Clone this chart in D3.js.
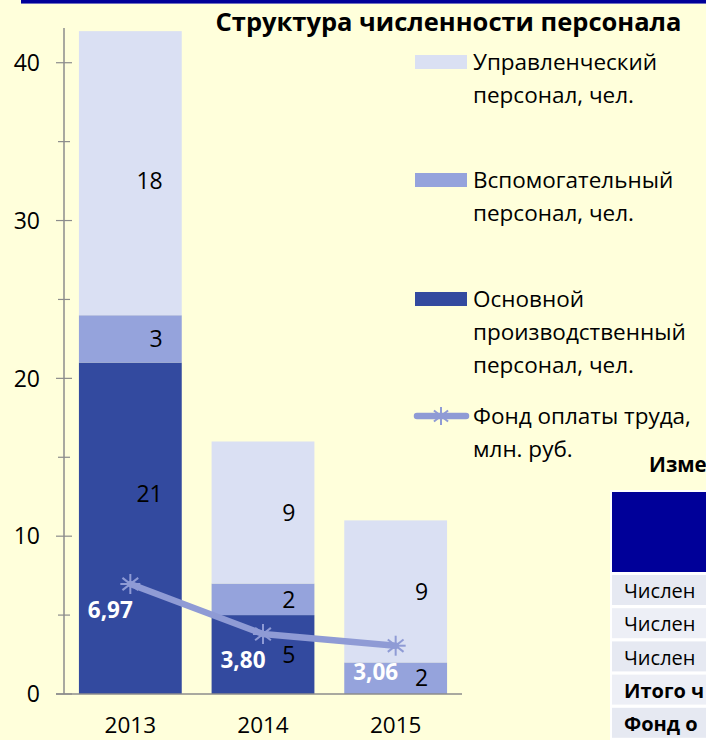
<!DOCTYPE html>
<html><head><meta charset="utf-8">
<script src="https://cdn.jsdelivr.net/npm/d3@7"></script>
<style>
html,body{margin:0;padding:0;background:#FFFFDB;overflow:hidden}
svg{display:block}
text{font-family:"Open Sans","Noto Sans",sans-serif}
</style></head>
<body>
<svg id="c" width="706" height="740"></svg>
<script>
const years = ["2013","2014","2015"];
const mainStaff = [21, 5, 0];
const auxStaff = [3, 2, 2];
const mgmtStaff = [18, 9, 9];
const wageFund = [6.97, 3.80, 3.06];
const yTicks = [0, 10, 20, 30, 40];
const legendLines = [
  ["Управленческий","персонал, чел."],
  ["Вспомогательный","персонал, чел."],
  ["Основной","производственный","персонал, чел."],
  ["Фонд оплаты труда,","млн. руб."]
];
const tableTitle = "Изме";
const tableRows = ["Числен", "Числен", "Числен", "Итого ч", "Фонд о"];

const colors = {main:"#334A9F", aux:"#95A3DC", mgmt:"#DAE0F3", line:"#8F9BD5"};
const svg = d3.select("#c");

// top band
svg.append("rect").attr("x",21).attr("y",0).attr("width",685).attr("height",3).attr("fill","#000099");
svg.append("rect").attr("x",21).attr("y",3).attr("width",685).attr("height",1).attr("fill","#6F6FC0");

const y = d3.scaleLinear().domain([0, 42.2]).range([694, 28]);
const x = d3.scaleBand().domain(years).range([64, 462]).paddingInner(0.225).paddingOuter(0.1125);

const rows = years.map((yr,i)=>({year:yr, main:mainStaff[i], aux:auxStaff[i], mgmt:mgmtStaff[i]}));
const stack = d3.stack().keys(["main","aux","mgmt"])(rows);

const g = svg.append("g");
stack.forEach(layer=>{
  g.selectAll(null).data(layer).join("rect")
    .attr("x", d=>x(d.data.year))
    .attr("width", x.bandwidth())
    .attr("y", d=>y(d[1]))
    .attr("height", d=>y(d[0])-y(d[1]))
    .attr("fill", colors[layer.key]);
});

// axes
const axisG = svg.append("g");
const ac = "#8C8C8C";
axisG.append("line").attr("x1",64).attr("x2",64).attr("y1",y.range()[1]).attr("y2",y(0)).attr("stroke",ac).attr("stroke-width",1.5);
axisG.append("line").attr("x1",56).attr("x2",462).attr("y1",y(0)).attr("y2",y(0)).attr("stroke",ac).attr("stroke-width",1.5);
const minor = d3.range(5, 42, 10);
axisG.selectAll(".mi").data(minor).join("line").attr("x1",58).attr("x2",70).attr("y1",d=>y(d)).attr("y2",d=>y(d)).attr("stroke",ac).attr("stroke-width",1.2);
axisG.selectAll(".ma").data(yTicks).join("line").attr("x1",56).attr("x2",72).attr("y1",d=>y(d)).attr("y2",d=>y(d)).attr("stroke",ac).attr("stroke-width",1.2);
axisG.selectAll(".tl").data(yTicks).join("text").attr("x",40).attr("y",d=>y(d)).attr("dy","0.36em")
  .attr("text-anchor","end").attr("font-size",23).attr("fill","#000").text(d=>d);
axisG.selectAll(".xl").data(years).join("text").attr("x",d=>x(d)+x.bandwidth()/2).attr("y",733)
  .attr("text-anchor","middle").attr("font-size",22.5).attr("fill","#000").text(d=>d);

// segment labels
stack.forEach(layer=>{
  g.selectAll(null).data(layer.filter(d=>d[1]-d[0]>0)).join("text")
    .attr("x", d=>x(d.data.year)+x.bandwidth()-19)
    .attr("y", d=>{
      let c = (d[0]+d[1])/2;
      if (layer.key==="main" && d.data.year==="2013") c += 2.2;
      if (layer.key==="mgmt" && d.data.year==="2013") c -= 0.5;
      return y(c);
    })
    .attr("dy","0.36em").attr("text-anchor","end").attr("font-size",23).attr("fill","#000")
    .text(d=>d[1]-d[0]);
});

// line series
const pts = years.map((yr,i)=>({year:yr, v:wageFund[i]}));
const line = d3.line().x(d=>x(d.year)+x.bandwidth()/2).y(d=>y(d.v));
svg.append("path").datum(pts).attr("d",line).attr("fill","none").attr("stroke",colors.line).attr("stroke-width",6.5).attr("stroke-linejoin","round").attr("stroke-linecap","round");

function star(sel, cx, cy, r){
  const gg = sel.append("g").attr("transform",`translate(${cx},${cy})`);
  [90, 38, -38].forEach(a=>{
    const rad = a*Math.PI/180;
    gg.append("line").attr("x1",-r*Math.cos(rad)).attr("y1",-r*Math.sin(rad))
      .attr("x2",r*Math.cos(rad)).attr("y2",r*Math.sin(rad))
      .attr("stroke",colors.line).attr("stroke-width",2);
  });
  gg.append("line").attr("x1",-r).attr("x2",r).attr("y1",0).attr("y2",0).attr("stroke",colors.line).attr("stroke-width",2);
}
pts.forEach(d=>star(svg, x(d.year)+x.bandwidth()/2, y(d.v), 10));

svg.selectAll(".fl").data(pts).join("text")
  .attr("x", d=>x(d.year)+x.bandwidth()/2-20)
  .attr("y", d=>y(d.v)+26)
  .attr("dy","0.36em").attr("text-anchor","middle").attr("font-size",22.5).attr("font-weight","bold").attr("fill","#fff")
  .text(d=>d3.format(".2f")(d.v).replace(".",","));

// title
svg.append("text").attr("x",448.5).attr("y",31).attr("text-anchor","middle").attr("font-size",25.5).attr("font-weight","bold").attr("fill","#000").text("Структура численности персонала");

// legend
const legend = [
  {color:colors.mgmt, type:"rect", top:62},
  {color:colors.aux, type:"rect", top:180},
  {color:colors.main, type:"rect", top:299},
  {color:colors.line, type:"line", top:416}
];
legend.forEach((l,k)=>{
  if(l.type==="rect"){
    svg.append("rect").attr("x",415).attr("y",l.top-7).attr("width",52).attr("height",14).attr("fill",l.color);
  } else {
    svg.append("line").attr("x1",417).attr("x2",466).attr("y1",l.top).attr("y2",l.top).attr("stroke",l.color).attr("stroke-width",6.5).attr("stroke-linecap","round");
    star(svg, 441, l.top, 9);
  }
  legendLines[k].forEach((t,i)=>{
    svg.append("text").attr("x",473).attr("y",l.top+i*33).attr("dy","0.35em").attr("font-size",22.5).attr("fill","#000").text(t);
  });
});

// table (partially visible)
svg.append("text").attr("x",649).attr("y",465).attr("dy","0.36em").attr("font-size",20.5).attr("font-weight","bold").attr("fill","#000").text(tableTitle);
svg.append("rect").attr("x",610).attr("y",490).attr("width",96).attr("height",250).attr("fill","#fff");
svg.append("rect").attr("x",612).attr("y",492).attr("width",94).attr("height",80).attr("fill","#000099");
tableRows.forEach((t,i)=>{
  const ty = 575 + i*33.2;
  svg.append("rect").attr("x",612).attr("y",ty).attr("width",94).attr("height",30).attr("fill", i%2===0?"#E6E9F2":"#EDEFF6");
  svg.append("text").attr("x",624).attr("y",ty+16).attr("dy","0.36em").attr("font-size",20).attr("font-weight", i>=3?"bold":"normal").attr("fill","#000").text(t);
});
</script>
</body></html>
